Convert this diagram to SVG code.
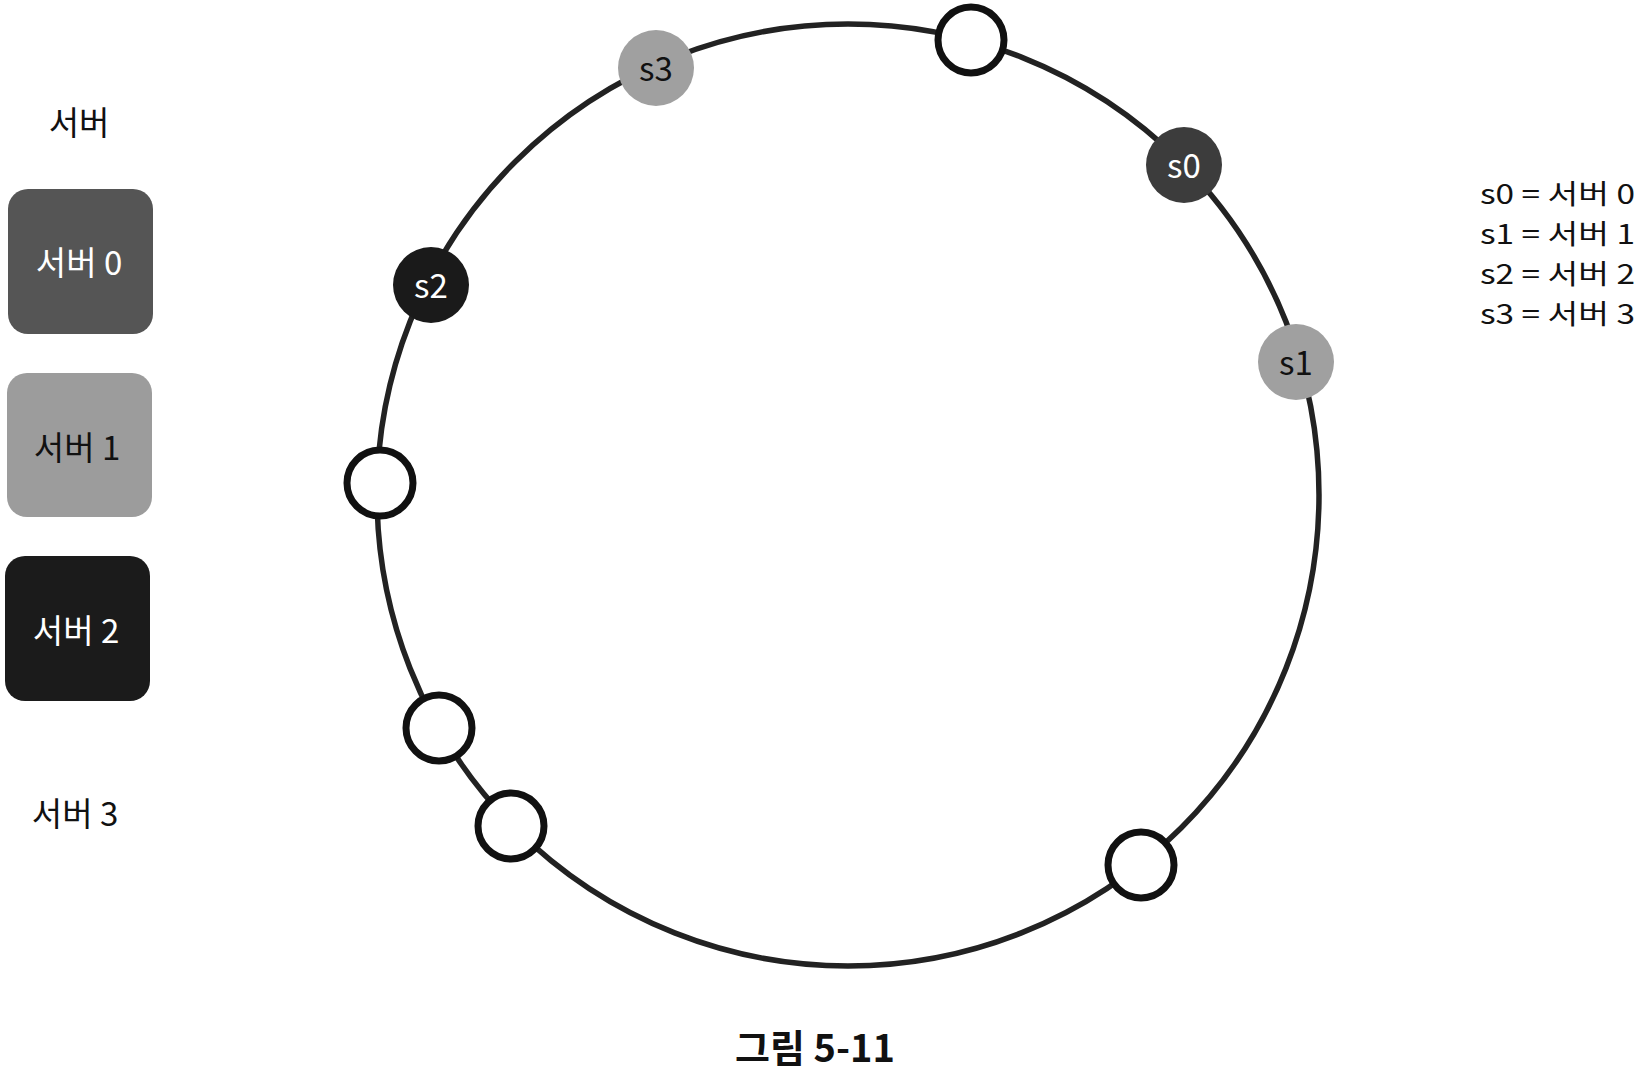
<svg xmlns="http://www.w3.org/2000/svg" width="1646" height="1071" viewBox="0 0 1646 1071">
<style>
text{font-family:"Noto Sans CJK KR","Noto Sans",sans-serif;dominant-baseline:central;text-anchor:middle}
.lbl{font-size:33px}
.leg{font-size:27.5px;text-anchor:start}
.ring{fill:none;stroke:#222;stroke-width:5.5}
.empty{fill:#fff;stroke:#111;stroke-width:7}
.w{fill:#fff}
.k{fill:#111}
</style>
<rect width="1646" height="1071" fill="#fff"/>
<g id="connectors">
<circle class="ring" cx="848" cy="495" r="471"/>
</g>
<g id="title-servers"><text class="lbl k" x="79" y="121">서버</text></g>
<g id="box-server0"><rect x="8" y="189" width="145" height="145" rx="20" fill="#555"/><text class="lbl w" x="79" y="261">서버 0</text></g>
<g id="box-server1"><rect x="7" y="373" width="145" height="144" rx="20" fill="#9c9c9c"/><text class="lbl k" x="77" y="446">서버 1</text></g>
<g id="box-server2"><rect x="5" y="556" width="145" height="145" rx="20" fill="#1b1b1b"/><text class="lbl w" x="76" y="629">서버 2</text></g>
<g id="label-server3"><text class="lbl k" x="75" y="812">서버 3</text></g>
<g id="node-empty1"><circle class="empty" cx="971" cy="40" r="33"/></g>
<g id="node-s3"><circle cx="656" cy="68" r="38" fill="#a0a0a0"/><text class="lbl k" x="656" y="67">s3</text></g>
<g id="node-s0"><circle cx="1184" cy="165" r="38" fill="#3c3c3c"/><text class="lbl w" x="1184" y="164">s0</text></g>
<g id="node-s1"><circle cx="1296" cy="362" r="38" fill="#a0a0a0"/><text class="lbl k" x="1296" y="361">s1</text></g>
<g id="node-s2"><circle cx="431" cy="285" r="38" fill="#1a1a1a"/><text class="lbl w" x="431" y="284">s2</text></g>
<g id="node-empty2"><circle class="empty" cx="380" cy="483" r="33"/></g>
<g id="node-empty3"><circle class="empty" cx="439" cy="728" r="33"/></g>
<g id="node-empty4"><circle class="empty" cx="511" cy="826" r="33"/></g>
<g id="node-empty5"><circle class="empty" cx="1141" cy="865" r="33"/></g>
<g id="legend">
<text class="leg k" x="1480" y="192" textLength="155" lengthAdjust="spacingAndGlyphs">s0 = 서버 0</text>
<text class="leg k" x="1480" y="232" textLength="155" lengthAdjust="spacingAndGlyphs">s1 = 서버 1</text>
<text class="leg k" x="1480" y="272" textLength="155" lengthAdjust="spacingAndGlyphs">s2 = 서버 2</text>
<text class="leg k" x="1480" y="312" textLength="155" lengthAdjust="spacingAndGlyphs">s3 = 서버 3</text>
</g>
<g id="caption"><text class="k" x="815" y="1045" style="font-size:38px;font-weight:bold">그림 5-11</text></g>
</svg>
